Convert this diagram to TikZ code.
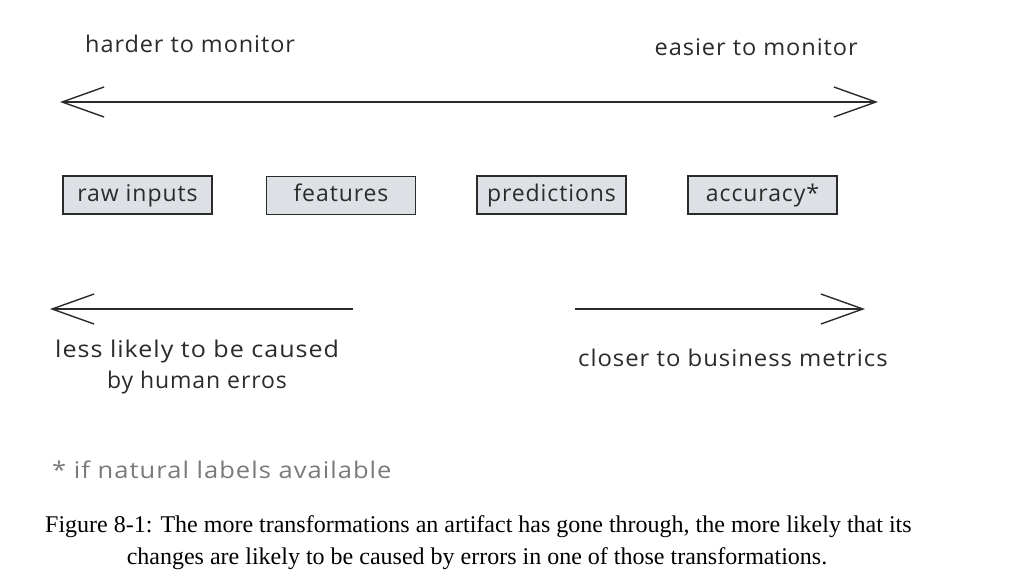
\documentclass[tikz,border=0pt]{standalone}
\usepackage{fontspec}
\setmainfont{Liberation Serif}
\newfontfamily\hand[LetterSpace=4]{Open Sans}
\usetikzlibrary{arrows.meta}
\definecolor{ink}{HTML}{2B2B2B}
\definecolor{boxfill}{HTML}{DDE0E4}
\definecolor{note}{HTML}{7A7A7A}
\tikzset{
  hw/.style={font=\hand\fontsize{23}{27}\selectfont, text=ink, inner sep=0pt},
  stagebox/.style={draw=ink, line width=1.3pt, fill=boxfill, minimum width=149pt, minimum height=38pt, inner sep=0pt, text height=16pt, text depth=4pt, font=\hand\fontsize{23}{27}\selectfont, text=ink},
  conn/.style={draw=ink, line width=1.4pt},
  captext/.style={font=\fontsize{24}{28}\selectfont, text=black, inner sep=0pt}
}
\begin{document}
\begin{tikzpicture}[x=1pt,y=-1pt]
\useasboundingbox[fill=white] (0,0) rectangle (1029,584);
% top labels
\node[hw, anchor=west] (hard) at (85,44) {\scalebox{1.02}[1]{harder to monitor}};
\node[hw, anchor=east] (easy) at (858,47) {\scalebox{1.025}[1]{easier to monitor}};
% top double arrow
\coordinate (tl) at (60,102);
\coordinate (tr) at (878,102);
\draw[conn, {Straight Barb[length=42pt,width=30pt]}-{Straight Barb[length=42pt,width=30pt]}] (tl) -- (tr);
% boxes
\node[stagebox] (raw) at (137.5,195) {raw inputs};
\node[stagebox] (feat) at (341,195.5) {features};
\node[stagebox] (pred) at (551.5,195) {predictions};
\node[stagebox] (acc) at (762.5,195) {accuracy*};
% bottom left arrow
\coordinate (bl1) at (50,309);
\coordinate (bl2) at (353,309);
\draw[conn, {Straight Barb[length=42pt,width=30pt]}-] (bl1) -- (bl2);
\node[hw, anchor=west] (less) at (55,352) {\scalebox{1.09}[1]{less likely to be caused}};
\node[hw] (human) at (197,383) {by human erros};
% bottom right arrow
\coordinate (br1) at (575,309);
\coordinate (br2) at (865,309);
\draw[conn, -{Straight Barb[length=42pt,width=30pt]}] (br1) -- (br2);
\node[hw, anchor=west] (close) at (578,358) {\scalebox{1.04}[1]{closer to business metrics}};
% footnote
\node[hw, anchor=west, text=note] (foot) at (52,470) {\scalebox{1.11}[1]{* if natural labels available}};
% caption
\node[captext, anchor=west] (cap1) at (45,527) {Figure 8-1: The more transformations an artifact has gone through, the more likely that its};
\node[captext] (cap2) at (477,559) {changes are likely to be caused by errors in one of those transformations.};
\end{tikzpicture}
\end{document}
